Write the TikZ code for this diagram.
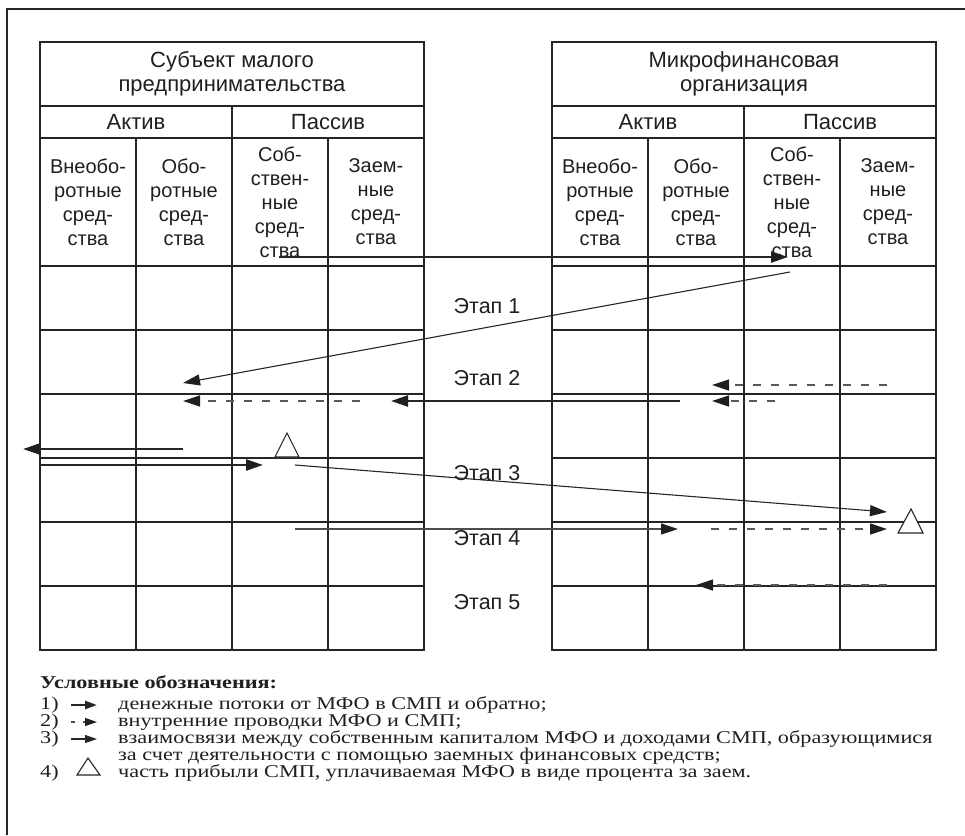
\documentclass[tikz,border=0pt]{standalone}
\usepackage{fontspec}
\setmainfont{Liberation Serif}
\newfontfamily\sansf{Liberation Sans}
\usetikzlibrary{arrows.meta}
\newcommand\lgwide[1]{\scalebox{1.235}[1]{#1}}
\begin{document}
\begin{tikzpicture}[x=1pt,y=-1pt,
  gridline/.style={draw=black!85, line width=1.2pt},
  celltext/.style={font=\sansf\fontsize{20}{24}\selectfont, align=center, text=black!88, inner sep=0pt},
  headtext/.style={font=\sansf\fontsize{22}{24}\selectfont, align=center, text=black!88, inner sep=0pt},
  stagetext/.style={font=\sansf\fontsize{21.5}{24}\selectfont, text=black!88, inner sep=0pt},
  flowthick/.style={line width=2.4pt, draw=black!85, -{Triangle[length=17pt,width=11pt,color=black!88]}},
  flowthin/.style={line width=1.1pt, draw=black!85, -{Triangle[length=17pt,width=11pt,color=black!88]}},
  flowgray/.style={line width=1.3pt, draw=black!70, -{Triangle[length=17pt,width=11pt,color=black!88]}},
  flowdash/.style={line width=1.3pt, draw=black!65, dash pattern=on 8pt off 10pt, -{Triangle[length=17pt,width=11pt,color=black!88]}},
  tri/.style={draw=black!85, line width=1.1pt, fill=white},
  legendtext/.style={font=\fontsize{18}{17}\selectfont, text=black!88, inner sep=0pt, anchor=base west},
]
\useasboundingbox (0,0) rectangle (965,835);
% outer frame (only left and top edges are inside the picture)
\draw[line width=2.4pt, draw=black!85] (7,835) -- (7,9) -- (965,9);

% tables
\foreach \x in {40,552}{
  \draw[gridline] (\x,42) rectangle (\x+384,650);
  \foreach \y in {106,138,266,330,394,458,522,586} \draw[gridline] (\x,\y) -- (\x+384,\y);
  \draw[gridline] (\x+192,106) -- (\x+192,650);
  \draw[gridline] (\x+96,138) -- (\x+96,650);
  \draw[gridline] (\x+288,138) -- (\x+288,650);
}

% left table texts
\node[headtext] (smpT) at (232,74) {Субъект малого\\предпринимательства};
\node[headtext] (smpA) at (136,122) {Актив};
\node[headtext] (smpP) at (328,122) {Пассив};
\node[celltext] (smp1) at (88,202) {Внеобо-\\ротные\\сред-\\ства};
\node[celltext] (smp2) at (184,202) {Обо-\\ротные\\сред-\\ства};
\node[celltext] (smp3) at (280,202) {Соб-\\ствен-\\ные\\сред-\\ства};
\node[celltext] (smp4) at (376,202) {Заем-\\ные\\сред-\\ства};

% right table texts
\node[headtext] (mfoT) at (744,74) {Микрофинансовая\\организация};
\node[headtext] (mfoA) at (648,122) {Актив};
\node[headtext] (mfoP) at (840,122) {Пассив};
\node[celltext] (mfo1) at (600,202) {Внеобо-\\ротные\\сред-\\ства};
\node[celltext] (mfo2) at (696,202) {Обо-\\ротные\\сред-\\ства};
\node[celltext] (mfo3) at (792,202) {Соб-\\ствен-\\ные\\сред-\\ства};
\node[celltext] (mfo4) at (888,202) {Заем-\\ные\\сред-\\ства};

% stage labels
\node[stagetext] (st1) at (487,306) {Этап 1};
\node[stagetext] (st2) at (487,378) {Этап 2};
\node[stagetext] (st3) at (487,473) {Этап 3};
\node[stagetext] (st4) at (487,538) {Этап 4};
\node[stagetext] (st5) at (487,602) {Этап 5};

% arrow end points
\coordinate (a1s) at (279,257);  \coordinate (a1e) at (788,257);
\coordinate (a2s) at (790,272);  \coordinate (a2e) at (183,383);
\coordinate (a3s) at (360,401);  \coordinate (a3e) at (183,401);
\coordinate (a4s) at (680,401);  \coordinate (a4e) at (391,401);
\coordinate (a5s) at (887,385);  \coordinate (a5e) at (712,385);
\coordinate (a6s) at (775,401);  \coordinate (a6e) at (712,401);
\coordinate (a7s) at (183,449);  \coordinate (a7e) at (23,449);
\coordinate (a8s) at (40,465);   \coordinate (a8e) at (263,465);
\coordinate (a9s) at (295,465);  \coordinate (a9e) at (887,512);
\coordinate (a10s) at (295,529); \coordinate (a10e) at (678,529);
\coordinate (a11s) at (711,529); \coordinate (a11e) at (887,529);
\coordinate (a12s) at (887,585); \coordinate (a12e) at (696,585);

\draw[flowthick] (a1s) -- (a1e);
\draw[flowthin]  (a2s) -- (a2e);
\draw[flowdash]  (a3s) -- (a3e);
\draw[flowthick] (a4s) -- (a4e);
\draw[flowdash]  (a5s) -- (a5e);
\draw[flowdash]  (a6s) -- (a6e);
\draw[flowthick] (a7s) -- (a7e);
\draw[flowthick] (a8s) -- (a8e);
\draw[flowthin]  (a9s) -- (a9e);
\draw[flowgray]  (a10s) -- (a10e);
\draw[flowdash]  (a11s) -- (a11e);
\draw[flowdash]  (a12s) -- (a12e);

% interest triangles
\draw[tri] (287,433) -- (299,457) -- (275,457) -- cycle;
\draw[tri] (911,509) -- (923,533) -- (898,533) -- cycle;

% legend
\node[legendtext] (lgH) at (40,688) {\lgwide{\bfseries Условные обозначения:}};
\node[legendtext] (lg1n) at (40,709) {\lgwide{1)}};
\node[legendtext] (lg2n) at (40,726.5) {\lgwide{2)}};
\node[legendtext] (lg3n) at (40,743) {\lgwide{3)}};
\node[legendtext] (lg4n) at (40,777) {\lgwide{4)}};
\node[legendtext] (lg1) at (118,709) {\lgwide{денежные потоки от МФО в СМП и обратно;}};
\node[legendtext] (lg2) at (118,726.5) {\lgwide{внутренние проводки МФО и СМП;}};
\node[legendtext] (lg3) at (118,743) {\lgwide{взаимосвязи между собственным капиталом МФО и доходами СМП, образующимися}};
\node[legendtext] (lg3b) at (118,760) {\lgwide{за счет деятельности с помощью заемных финансовых средств;}};
\node[legendtext] (lg4) at (118,777) {\lgwide{часть прибыли СМП, уплачиваемая МФО в виде процента за заем.}};

\coordinate (i1s) at (71,705); \coordinate (i1e) at (97,705);
\coordinate (i2s) at (71,722); \coordinate (i2e) at (97,722);
\coordinate (i3s) at (71,739); \coordinate (i3e) at (97,739);
\draw[line width=2.4pt, draw=black!85, -{Triangle[length=12pt,width=8pt]}] (i1s) -- (i1e);
\draw[line width=1.3pt, draw=black!70, dash pattern=on 4pt off 8pt, -{Triangle[length=12pt,width=8pt,color=black!88]}] (i2s) -- (i2e);
\draw[line width=1.1pt, draw=black!85, -{Triangle[length=12pt,width=8pt]}] (i3s) -- (i3e);
\draw[tri] (88,758) -- (100,775) -- (77,775) -- cycle;
\end{tikzpicture}
\end{document}
